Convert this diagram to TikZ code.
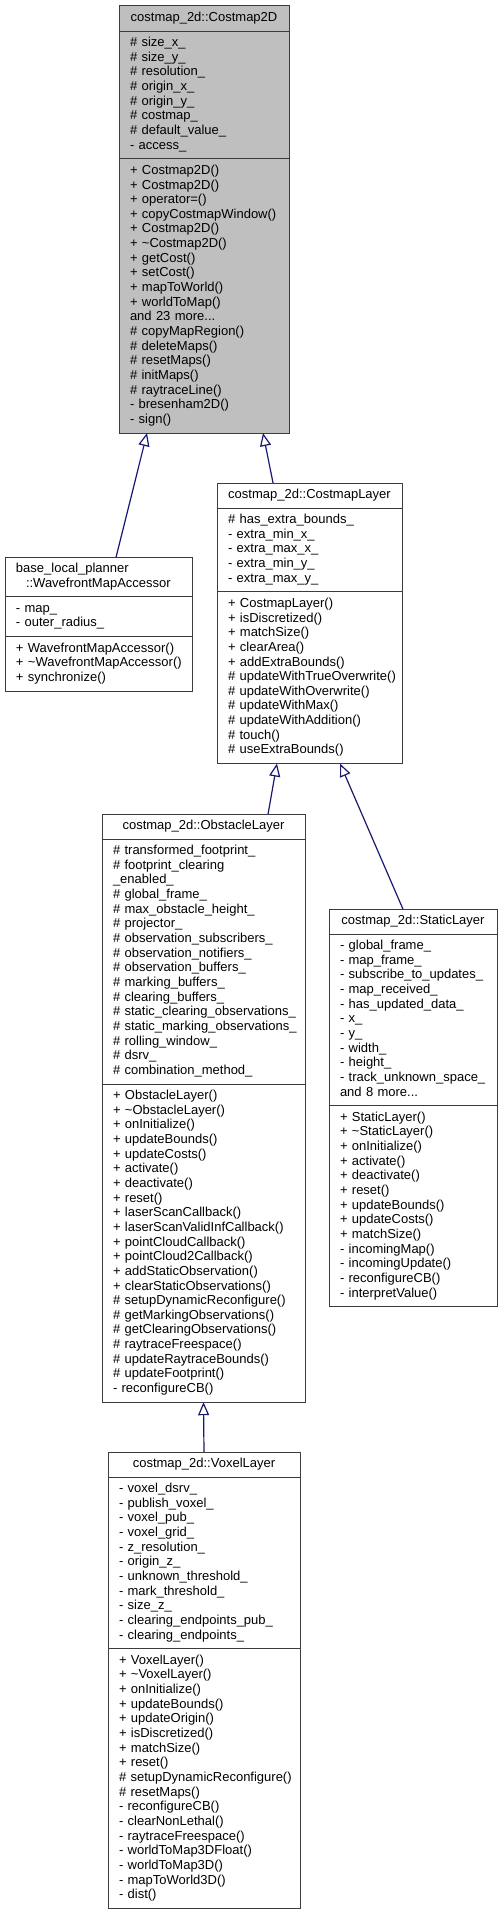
\documentclass[tikz,border=0pt]{standalone}
\usepackage{fontspec}
\setmainfont{Liberation Sans}
\usetikzlibrary{arrows.meta,positioning,calc}
\definecolor{BaseGrey}{RGB}{191,191,191}
\definecolor{EdgeGrey}{RGB}{60,60,60}
\definecolor{InheritBlue}{RGB}{25,25,112}

\begin{document}
\begin{tikzpicture}[
    x=1pt, y=-1pt,
    part/.style={draw=EdgeGrey, fill=white, line width=1pt, rectangle, outer sep=0pt,
      inner xsep=11pt, inner ysep=5.25pt, align=left, font=\fontsize{13}{14.65}\selectfont,
      execute at begin node={\hyphenpenalty=10000\exhyphenpenalty=10000\hbadness=10000\hfuzz=40pt\strut},
      execute at end node=\strut},
    cname/.style={part, anchor=north west, align=center},
    inherit/.style={-{Triangle[length=13pt,width=11pt,fill=white]}, line width=1.2pt, draw=InheritBlue}
  ]
  \useasboundingbox (0,0) rectangle (502,1916);

  % base class
  \node[cname, fill=BaseGrey, text width=148pt] (costmap) at (119,6) {costmap\_2d::Costmap2D};
  \node[part, fill=BaseGrey, text width=148pt, below=0pt of costmap] (costmapAttr)
    {\#~size\_x\_\\ \#~size\_y\_\\ \#~resolution\_\\ \#~origin\_x\_\\ \#~origin\_y\_\\
     \#~costmap\_\\ \#~default\_value\_\\ -~access\_};
  \node[part, fill=BaseGrey, text width=148pt, below=0pt of costmapAttr] (costmapOps)
    {+~Costmap2D()\\ +~Costmap2D()\\ +~operator=()\\ +~copyCostmapWindow()\\ +~Costmap2D()\\
     +~\textasciitilde Costmap2D()\\ +~getCost()\\ +~setCost()\\ +~mapToWorld()\\ +~worldToMap()\\
     and~23~more...\\ \#~copyMapRegion()\\ \#~deleteMaps()\\ \#~resetMaps()\\ \#~initMaps()\\
     \#~raytraceLine()\\ -~bresenham2D()\\ -~sign()};

  % wavefront accessor
  \node[cname, align=left, text width=165pt] (wavefront) at (5,557)
    {base\_local\_planner\\ \hspace*{10pt}::WavefrontMapAccessor};
  \node[part, text width=165pt, below=0pt of wavefront] (wavefrontAttr)
    {-~map\_\\ -~outer\_radius\_};
  \node[part, text width=165pt, below=0pt of wavefrontAttr] (wavefrontOps)
    {+~WavefrontMapAccessor()\\ +~\textasciitilde WavefrontMapAccessor()\\ +~synchronize()};

  % costmap layer
  \node[cname, text width=163pt] (layer) at (217,483) {costmap\_2d::CostmapLayer};
  \node[part, text width=163pt, below=0pt of layer] (layerAttr)
    {\#~has\_extra\_bounds\_\\ -~extra\_min\_x\_\\ -~extra\_max\_x\_\\ -~extra\_min\_y\_\\ -~extra\_max\_y\_};
  \node[part, text width=163pt, below=0pt of layerAttr] (layerOps)
    {+~CostmapLayer()\\ +~isDiscretized()\\ +~matchSize()\\ +~clearArea()\\ +~addExtraBounds()\\
     \#~updateWithTrueOverwrite()\\ \#~updateWithOverwrite()\\ \#~updateWithMax()\\
     \#~updateWithAddition()\\ \#~touch()\\ \#~useExtraBounds()};

  % obstacle layer
  \node[cname, text width=181pt] (obstacle) at (102,814) {costmap\_2d::ObstacleLayer};
  \node[part, text width=181pt, below=0pt of obstacle] (obstacleAttr)
    {\#~transformed\_footprint\_\\ \#~footprint\_clearing\\ \_enabled\_\\ \#~global\_frame\_\\
     \#~max\_obstacle\_height\_\\ \#~projector\_\\ \#~observation\_subscribers\_\\
     \#~observation\_notifiers\_\\ \#~observation\_buffers\_\\ \#~marking\_buffers\_\\
     \#~clearing\_buffers\_\\ \#~static\_clearing\_observations\_\\ \#~static\_marking\_observations\_\\
     \#~rolling\_window\_\\ \#~dsrv\_\\ \#~combination\_method\_};
  \node[part, text width=181pt, below=0pt of obstacleAttr] (obstacleOps)
    {+~ObstacleLayer()\\ +~\textasciitilde ObstacleLayer()\\ +~onInitialize()\\ +~updateBounds()\\
     +~updateCosts()\\ +~activate()\\ +~deactivate()\\ +~reset()\\ +~laserScanCallback()\\
     +~laserScanValidInfCallback()\\ +~pointCloudCallback()\\ +~pointCloud2Callback()\\
     +~addStaticObservation()\\ +~clearStaticObservations()\\ \#~setupDynamicReconfigure()\\
     \#~getMarkingObservations()\\ \#~getClearingObservations()\\ \#~raytraceFreespace()\\
     \#~updateRaytraceBounds()\\ \#~updateFootprint()\\ -~reconfigureCB()};

  % static layer
  \node[cname, text width=146pt] (static) at (329,909) {costmap\_2d::StaticLayer};
  \node[part, text width=146pt, below=0pt of static] (staticAttr)
    {-~global\_frame\_\\ -~map\_frame\_\\ -~subscribe\_to\_updates\_\\ -~map\_received\_\\
     -~has\_updated\_data\_\\ -~x\_\\ -~y\_\\ -~width\_\\ -~height\_\\ -~track\_unknown\_space\_\\
     and~8~more...};
  \node[part, text width=146pt, below=0pt of staticAttr] (staticOps)
    {+~StaticLayer()\\ +~\textasciitilde StaticLayer()\\ +~onInitialize()\\ +~activate()\\
     +~deactivate()\\ +~reset()\\ +~updateBounds()\\ +~updateCosts()\\ +~matchSize()\\
     -~incomingMap()\\ -~incomingUpdate()\\ -~reconfigureCB()\\ -~interpretValue()};

  % voxel layer
  \node[cname, text width=170pt] (voxel) at (108,1452) {costmap\_2d::VoxelLayer};
  \node[part, text width=170pt, below=0pt of voxel] (voxelAttr)
    {-~voxel\_dsrv\_\\ -~publish\_voxel\_\\ -~voxel\_pub\_\\ -~voxel\_grid\_\\ -~z\_resolution\_\\
     -~origin\_z\_\\ -~unknown\_threshold\_\\ -~mark\_threshold\_\\ -~size\_z\_\\
     -~clearing\_endpoints\_pub\_\\ -~clearing\_endpoints\_};
  \node[part, text width=170pt, below=0pt of voxelAttr] (voxelOps)
    {+~VoxelLayer()\\ +~\textasciitilde VoxelLayer()\\ +~onInitialize()\\ +~updateBounds()\\
     +~updateOrigin()\\ +~isDiscretized()\\ +~matchSize()\\ +~reset()\\
     \#~setupDynamicReconfigure()\\ \#~resetMaps()\\ -~reconfigureCB()\\ -~clearNonLethal()\\
     -~raytraceFreespace()\\ -~worldToMap3DFloat()\\ -~worldToMap3D()\\ -~mapToWorld3D()\\ -~dist()};

  % inheritance
  \draw[inherit] ($(wavefront.north west)!0.594!(wavefront.north east)$) -- ($(costmapOps.south west)!0.165!(costmapOps.south east)$);
  \draw[inherit] ($(layer.north west)!0.303!(layer.north east)$) -- ($(costmapOps.south west)!0.847!(costmapOps.south east)$);
  \draw[inherit] ($(obstacle.north west)!0.818!(obstacle.north east)$) -- ($(layerOps.south west)!0.324!(layerOps.south east)$);
  \draw[inherit] ($(static.north west)!0.44!(static.north east)$) -- ($(layerOps.south west)!0.665!(layerOps.south east)$);
  \draw[inherit] (voxel.north) -- (obstacleOps.south);
\end{tikzpicture}
\end{document}
